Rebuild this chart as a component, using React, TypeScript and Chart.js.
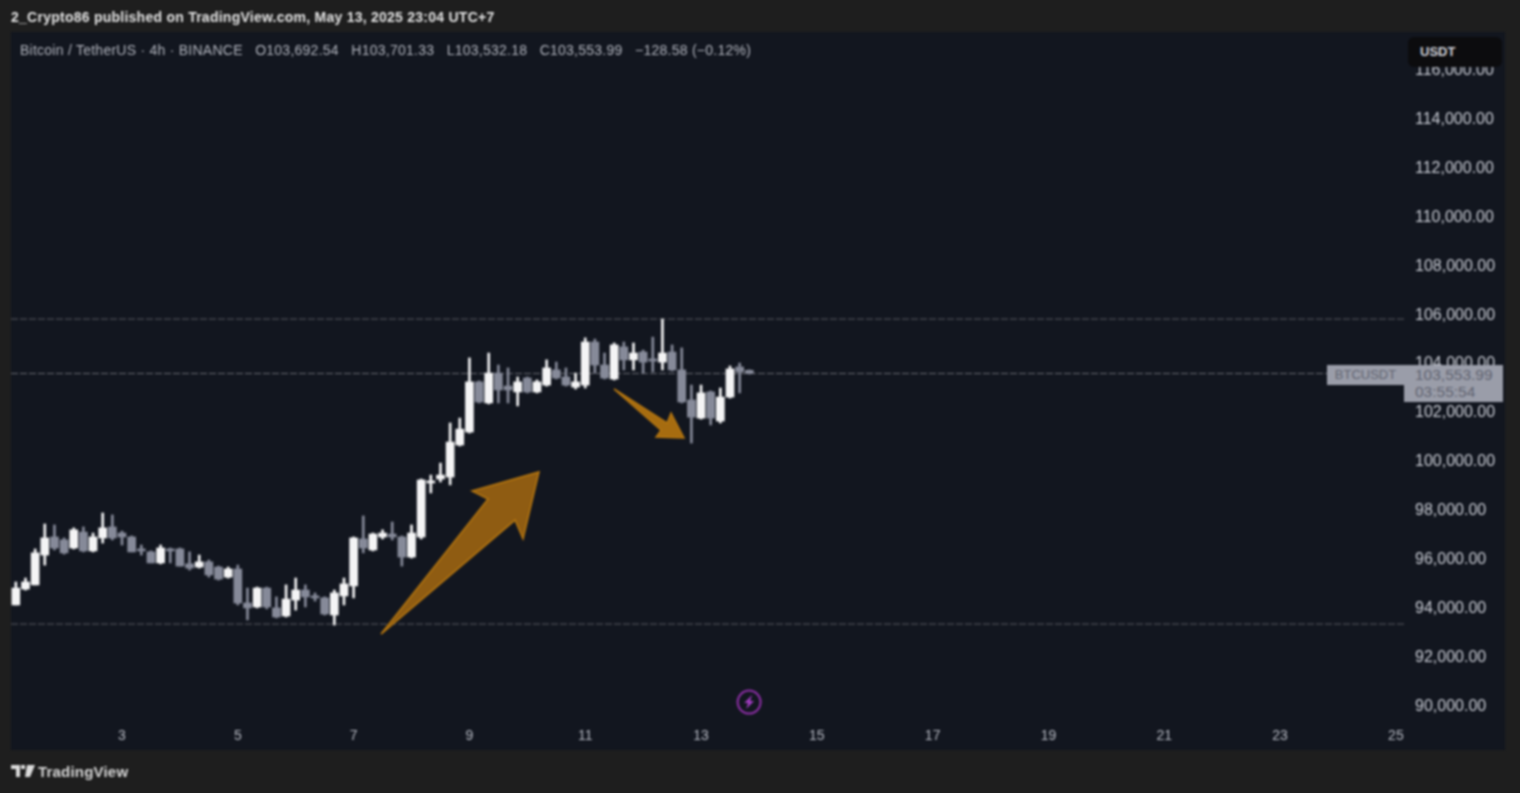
import React, { useRef, useEffect } from "react";
import { Chart, registerables } from "chart.js";

Chart.register(...registerables);

// 4h candles, first one is May 1 04:00
const firstBarDay = 1.1667;
const barsPerDay = 6;

const opens = [
  94090, 94740, 94910, 96130, 96870, 96750, 96420, 97070, 96300, 96830, 97280, 97030, 96870, 96380, 96260, 95810,
  96380, 96380, 95770, 95640, 95850, 95640, 95230, 95560, 94170, 94010, 94780, 93970, 93640, 94290, 94700, 94460,
  94380, 93680, 94460, 94870, 96790, 96340, 96870, 96990, 96870, 96050, 96870, 99080, 99240, 99320, 100630, 101160,
  103210, 102350, 103570, 103040, 102800, 103370, 102800, 103080, 103700, 103410, 103000, 103080, 104840, 103900,
  103330, 104640, 104110, 104430, 104150, 104020, 104430, 103700, 102470, 101730, 102800, 101610, 102590, 103820,
  103682.54,
];
const highs = [
  95030, 95190, 96380, 97400, 97360, 96830, 97240, 97280, 97030, 97850, 97770, 97110, 96910, 96540, 96300, 96540,
  96420, 96420, 96260, 96130, 95930, 95680, 95640, 95720, 94780, 94820, 94820, 94420, 94910, 95190, 94910, 94580,
  94420, 94700, 95190, 96870, 97730, 97030, 97160, 97480, 96910, 97360, 99240, 99400, 99890, 101530, 101730, 104190,
  103250, 104390, 103900, 103780, 103410, 103410, 103290, 104110, 104020, 103780, 103570, 105010, 104960, 104390,
  104800, 104840, 104800, 104510, 105040, 105780, 104720, 104600, 103080, 103080, 102840, 102960, 103860, 103980,
  103701.33,
];
const lows = [
  94090, 94700, 94910, 95720, 96340, 96170, 96380, 96260, 96260, 96620, 96750, 96540, 96260, 96130, 95810, 95770,
  95810, 95680, 95520, 95600, 95230, 95110, 95190, 94090, 93480, 93970, 93930, 93560, 93600, 93880, 94010, 94250,
  93680, 93270, 94090, 94380, 96220, 96300, 96790, 96750, 95680, 96010, 96790, 98670, 99120, 99000, 100590, 101120,
  102350, 102310, 102350, 102350, 102230, 102760, 102760, 103040, 103330, 103040, 102920, 102960, 103570, 103330,
  103290, 103700, 103700, 103570, 103620, 103700, 103660, 102350, 100710, 101690, 101450, 101530, 102550, 102760,
  103532.18,
];
const closes = [
  94780, 95030, 96220, 96830, 96420, 96220, 97160, 96300, 96870, 97240, 96830, 96870, 96260, 96300, 95810, 96420,
  96300, 95680, 95600, 95850, 95320, 95150, 95560, 94170, 93970, 94780, 94010, 93600, 94330, 94700, 94420, 94380,
  93720, 94580, 94950, 96830, 96420, 96990, 97030, 96870, 96050, 97030, 99200, 99160, 99400, 100750, 101280, 103210,
  102390, 103570, 102880, 102880, 103210, 102800, 103210, 103780, 103370, 103080, 103210, 104840, 103900, 103370,
  104720, 104110, 104390, 104020, 104060, 104390, 103700, 102390, 101770, 102760, 101730, 102590, 103740, 103620,
  103553.99,
];

const priceTicks = [90000, 92000, 94000, 96000, 98000, 100000, 102000, 104000, 106000, 108000, 110000, 112000, 114000, 116000];
const dayTicks = [3, 5, 7, 9, 11, 13, 15, 17, 19, 21, 23, 25];

// horizontal levels drawn on the chart
const resistanceLevel = 105780;
const lastPrice = 103553.99;
const supportLevel = 93310;

// arrow outlines as [day, price]
const bigArrow = [
  [7.473, 92900], [9.321, 98420], [9.045, 98750], [10.202, 99530], [9.926, 96790], [9.788, 97560],
];
const smallArrow = [
  [11.497, 102920], [12.413, 101530], [12.482, 101940], [12.706, 100920], [12.223, 100960], [12.309, 101240],
];
const flashMark = [13.83, 90120];

const dayMin = 1.083;
const dayMax = 25.14;
const UP = "#f4f4f5";
const DOWN = "#868a99";
const FONT = "'Liberation Sans', Arial, sans-serif";

const days = opens.map((_, i) => firstBarDay + i / barsPerDay);
const colors = opens.map((o, i) => (closes[i] >= o ? UP : DOWN));

const annotations = {
  id: "annotations",
  afterDatasetsDraw(chart: any) {
    const { ctx, scales } = chart;
    const drawArrow = (pts: number[][], fill: string, stroke: string) => {
      ctx.save();
      ctx.beginPath();
      pts.forEach(([d, p], i) => {
        const x = scales.x.getPixelForValue(d);
        const y = scales.y.getPixelForValue(p);
        if (i === 0) ctx.moveTo(x, y);
        else ctx.lineTo(x, y);
      });
      ctx.closePath();
      ctx.fillStyle = fill;
      ctx.fill();
      ctx.strokeStyle = stroke;
      ctx.lineWidth = 1.5;
      ctx.stroke();
      ctx.restore();
    };
    drawArrow(bigArrow, "#8f5c12", "#b57610");
    drawArrow(smallArrow, "#a66c10", "#b57610");

    // flash icon
    const cx = scales.x.getPixelForValue(flashMark[0]);
    const cy = scales.y.getPixelForValue(flashMark[1]);
    ctx.save();
    ctx.strokeStyle = "#8a2ea3";
    ctx.lineWidth = 2;
    ctx.beginPath();
    ctx.arc(cx, cy, 11.5, 0, Math.PI * 2);
    ctx.stroke();
    ctx.fillStyle = "#a03cc0";
    ctx.beginPath();
    ctx.moveTo(cx + 3, cy - 7);
    ctx.lineTo(cx - 5, cy + 1);
    ctx.lineTo(cx - 1, cy + 1);
    ctx.lineTo(cx - 3, cy + 7);
    ctx.lineTo(cx + 5, cy - 1);
    ctx.lineTo(cx + 1, cy - 1);
    ctx.closePath();
    ctx.fill();
    ctx.restore();
  },
};

const levelLine = (price: number, color: string) => ({
  type: "line" as const,
  data: [
    { x: dayMin, y: price },
    { x: dayMax, y: price },
  ],
  borderColor: color,
  borderWidth: 1,
  borderDash: [7, 2],
  pointRadius: 0,
  order: 3,
});

const App: React.FC = () => {
  const chartRef = useRef<HTMLCanvasElement | null>(null);

  useEffect(() => {
    if (!chartRef.current) return;
    const ctx = chartRef.current.getContext("2d");
    if (!ctx) return;

    const chartInstance = new Chart(ctx, {
      type: "bar",
      data: {
        datasets: [
          levelLine(resistanceLevel, "#5a5b63"),
          levelLine(lastPrice, "#6a6b73"),
          levelLine(supportLevel, "#5a5b63"),
          {
            label: "Wick",
            data: days.map((d, i) => ({ x: d, y: [lows[i], highs[i]] })),
            backgroundColor: colors,
            barThickness: 2,
            grouped: false,
            order: 2,
          },
          {
            label: "Body",
            data: days.map((d, i) => ({ x: d, y: [Math.min(opens[i], closes[i]), Math.max(opens[i], closes[i])] })),
            backgroundColor: colors,
            barThickness: 8,
            grouped: false,
            order: 1,
          },
        ] as any,
      },
      plugins: [annotations],
      options: {
        responsive: false,
        animation: false,
        layout: { padding: { left: 11, right: 15, top: 32, bottom: 43 } },
        plugins: { legend: { display: false }, tooltip: { enabled: false } },
        scales: {
          x: {
            type: "linear",
            offset: false,
            min: dayMin,
            max: dayMax,
            grid: { display: false, drawTicks: false, offset: false },
            border: { display: false },
            afterBuildTicks: (axis: any) => {
              axis.ticks = dayTicks.map((value) => ({ value }));
            },
            afterFit: (axis: any) => {
              axis.height = 26;
            },
            ticks: {
              autoSkip: false,
              maxRotation: 0,
              padding: 4,
              color: "#b7bac3",
              font: { size: 14, family: FONT },
              callback: (value: any) => String(value),
            },
          },
          y: {
            position: "right",
            min: 89223,
            max: 117516,
            grid: { display: false, drawTicks: false },
            border: { display: false },
            afterBuildTicks: (axis: any) => {
              axis.ticks = priceTicks.map((value) => ({ value }));
            },
            afterFit: (axis: any) => {
              axis.width = 101;
            },
            ticks: {
              autoSkip: false,
              padding: 11,
              labelOffset: 1.5,
              color: "#c9ccd4",
              font: { size: 16, family: FONT },
              callback: (value: any) =>
                Number(value).toLocaleString("en-US", { minimumFractionDigits: 2, maximumFractionDigits: 2 }),
            },
          },
        },
      },
    });

    return () => {
      chartInstance.destroy();
    };
  }, []);

  return (
    <div
      style={{
        position: "absolute",
        left: 0,
        top: 0,
        width: 1520,
        height: 793,
        overflow: "hidden",
        background: "#1e1e1e",
        fontFamily: FONT,
      }}
    >
      <div style={{ filter: "blur(0.9px)", position: "absolute", left: 0, top: 0, width: 1520, height: 793 }}>
        <div style={{ position: "absolute", left: 11, top: 32, width: 1494, height: 718, background: "#12161f" }} />
        <canvas ref={chartRef} width={1520} height={793} style={{ position: "absolute", left: 0, top: 0 }} />

        <div
          style={{
            position: "absolute",
            left: 11,
            top: 9,
            fontSize: 14,
            letterSpacing: 0.25,
            fontWeight: 700,
            color: "#e4e4e4",
            whiteSpace: "nowrap",
          }}
        >
          2_Crypto86 published on TradingView.com, May 13, 2025 23:04 UTC+7
        </div>
        <div
          style={{
            position: "absolute",
            left: 20,
            top: 42,
            fontSize: 14,
            letterSpacing: 0.25,
            color: "#b2b5be",
            whiteSpace: "pre",
          }}
        >
          {"Bitcoin / TetherUS · 4h · BINANCE   O103,692.54   H103,701.33   L103,532.18   C103,553.99   −128.58 (−0.12%)"}
        </div>

        <div
          style={{
            position: "absolute",
            left: 1408,
            top: 37,
            width: 94,
            height: 30,
            borderRadius: 6,
            background: "#0c0c0e",
            color: "#d1d4dc",
            fontSize: 13,
            fontWeight: 700,
            lineHeight: "30px",
            paddingLeft: 12,
            boxSizing: "border-box",
          }}
        >
          USDT
        </div>

        <div
          style={{
            position: "absolute",
            left: 1327,
            top: 365,
            width: 77,
            height: 20,
            background: "#9a9da9",
            color: "#606370",
            fontSize: 13,
            lineHeight: "20px",
            textAlign: "center",
          }}
        >
          BTCUSDT
        </div>
        <div
          style={{
            position: "absolute",
            left: 1404,
            top: 365,
            width: 99,
            height: 37,
            background: "#9a9da9",
            color: "#606370",
            fontSize: 15.5,
            lineHeight: "17px",
            paddingLeft: 11,
            paddingTop: 1,
            boxSizing: "border-box",
          }}
        >
          <div>103,553.99</div>
          <div>03:55:54</div>
        </div>

        <svg style={{ position: "absolute", left: 11, top: 765 }} width={24} height={13} viewBox="0 0 24 13">
          <path d="M0 0h9v12H5V4H0z M10 0h4v4h-4z M16 0h8l-5 12h-5z" fill="#dcdcdc" />
        </svg>
        <div style={{ position: "absolute", left: 38, top: 763, fontSize: 15, letterSpacing: 0.2, fontWeight: 700, color: "#d8d8d8" }}>
          TradingView
        </div>
      </div>
    </div>
  );
};

export default App;
